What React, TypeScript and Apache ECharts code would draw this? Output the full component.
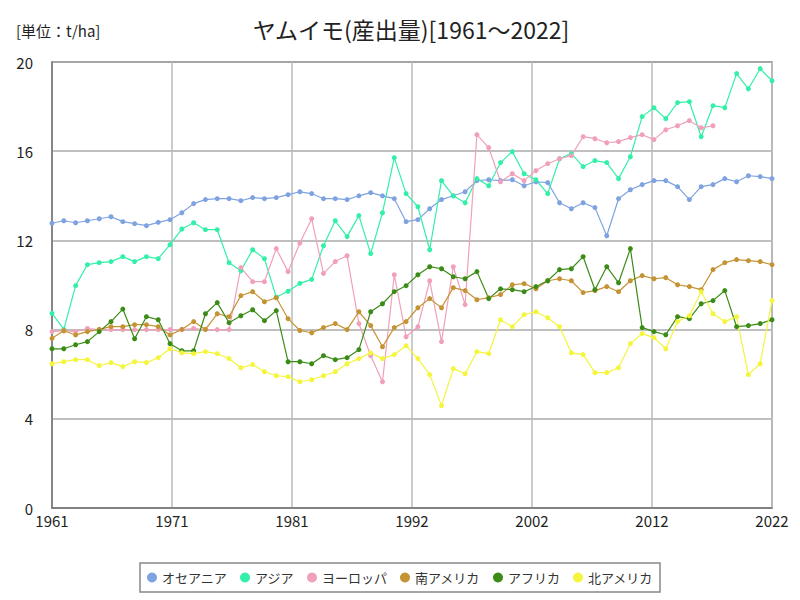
import React, { useEffect, useRef } from "react";
import * as echarts from "echarts";

const startYear = 1961;
const years: number[] = Array.from({ length: 62 }, (_, i) => startYear + i);

const seriesNames = ["オセアニア", "アジア", "ヨーロッパ", "南アメリカ", "アフリカ", "北アメリカ"];
const seriesColors = ["#7fa3e0", "#33f0a8", "#f0a0b8", "#c49334", "#3a8c16", "#f4f53c"];

const oceania = [
  12.77, 12.88, 12.79, 12.88, 12.97, 13.06, 12.84, 12.75, 12.66, 12.81,
  12.93, 13.24, 13.65, 13.83, 13.87, 13.87, 13.78, 13.92, 13.87, 13.92,
  14.05, 14.18, 14.1, 13.87, 13.87, 13.83, 14.0, 14.14, 14.0, 13.87,
  12.84, 12.93, 13.42, 13.83, 14.0, 14.18, 14.68, 14.72, 14.68, 14.72,
  14.45, 14.63, 14.59, 13.69, 13.42, 13.69, 13.47, 12.21, 13.87, 14.27,
  14.5, 14.68, 14.68, 14.41, 13.83, 14.41, 14.5, 14.77, 14.63, 14.9,
  14.86, 14.77,
];
const asia = [
  8.73, 8.01, 9.97, 10.91, 11.0, 11.05, 11.27, 11.05, 11.27, 11.18,
  11.81, 12.51, 12.79, 12.48, 12.48, 11.0, 10.64, 11.58, 11.18, 9.45,
  9.72, 10.07, 10.25, 11.76, 12.88, 12.17, 13.11, 11.41, 13.24, 15.71,
  14.1, 13.51, 11.58, 14.68, 14.0, 13.69, 14.77, 14.45, 15.49, 15.98,
  14.99, 14.72, 14.1, 15.66, 15.89, 15.31, 15.58, 15.49, 14.77, 15.75,
  17.55, 17.95, 17.46, 18.18, 18.22, 16.65, 18.04, 17.95, 19.48, 18.8,
  19.7, 19.16,
];
const europe: (number | null)[] = [
  7.91, 7.95, 7.91, 8.05, 8.0, 8.0, 8.0, 8.0, 8.0, 8.0,
  8.0, 8.0, 8.05, 8.0, 8.0, 8.0, 10.78, 10.15, 10.15, 11.63,
  10.6, 11.88, 12.97, 10.52, 11.05, 11.31, 8.27, 6.83, 5.66, 10.46,
  7.68, 8.13, 10.19, 7.46, 10.82, 9.12, 16.74, 16.16, 14.63, 14.99,
  14.68, 15.13, 15.44, 15.66, 15.8, 16.65, 16.56, 16.38, 16.43, 16.61,
  16.74, 16.52, 16.96, 17.14, 17.37, 17.05, 17.14, null, null, null,
  null, null,
];
const southAmerica = [
  7.61, 7.95, 7.76, 7.91, 8.01, 8.13, 8.13, 8.22, 8.22, 8.13,
  7.76, 8.01, 8.36, 8.01, 8.71, 8.58, 9.52, 9.7, 9.25, 9.43,
  8.49, 7.96, 7.86, 8.09, 8.27, 8.0, 8.8, 8.18, 7.23, 8.09,
  8.36, 8.98, 9.39, 8.98, 9.88, 9.75, 9.34, 9.43, 9.57, 10.01,
  10.06, 9.83, 10.19, 10.28, 10.19, 9.66, 9.75, 9.93, 9.7, 10.19,
  10.42, 10.28, 10.33, 10.01, 9.93, 9.79, 10.69, 11.0, 11.14, 11.09,
  11.05, 10.91,
];
const africa = [
  7.14, 7.14, 7.32, 7.46, 7.91, 8.36, 8.92, 7.59, 8.58, 8.44,
  7.37, 7.05, 7.05, 8.71, 9.21, 8.31, 8.62, 8.89, 8.4, 8.85,
  6.56, 6.56, 6.47, 6.83, 6.65, 6.74, 7.1, 8.8, 9.16, 9.7,
  9.97, 10.46, 10.82, 10.73, 10.37, 10.28, 10.6, 9.39, 9.83, 9.79,
  9.7, 9.93, 10.19, 10.69, 10.73, 11.27, 9.79, 10.82, 10.1, 11.63,
  8.09, 7.91, 7.77, 8.58, 8.49, 9.16, 9.3, 9.75, 8.13, 8.18,
  8.27, 8.44,
];
const northAmerica = [
  6.47, 6.56, 6.65, 6.65, 6.38, 6.52, 6.34, 6.56, 6.52, 6.74,
  7.14, 6.96, 6.92, 7.01, 6.92, 6.7, 6.29, 6.43, 6.11, 5.93,
  5.89, 5.66, 5.75, 5.93, 6.11, 6.47, 6.7, 6.96, 6.7, 6.88,
  7.28, 6.7, 5.98, 4.59, 6.25, 6.02, 7.01, 6.92, 8.44, 8.13,
  8.67, 8.8, 8.53, 8.13, 6.96, 6.88, 6.07, 6.07, 6.29, 7.37,
  7.82, 7.64, 7.14, 8.36, 8.62, 9.7, 8.71, 8.36, 8.58, 5.98,
  6.47, 9.3,
];

const allSeries = [oceania, asia, europe, southAmerica, africa, northAmerica];
const yTicks = { min: 0, max: 20, interval: 4 };
const titleText = "ヤムイモ(産出量)[1961～2022]";
const unitText = "[単位：t/ha]";
const FONT = "'Noto Sans CJK JP', sans-serif";

export default function App() {
  const ref = useRef<HTMLDivElement>(null);
  useEffect(() => {
    if (!ref.current) return;
    const chart = echarts.init(ref.current, null, { renderer: "svg" });
    const lastIdx = years.length - 1;
    chart.setOption({
      animation: false,
      backgroundColor: "#ffffff",
      textStyle: { fontFamily: FONT },
      graphic: [
        {
          type: "text",
          x: 411,
          y: 29,
          style: {
            text: titleText,
            fontFamily: FONT,
            fontSize: 23,
            fill: "#222",
            textAlign: "center",
            textVerticalAlign: "middle",
          },
        },
        {
          type: "text",
          x: 16,
          y: 30,
          style: {
            text: unitText,
            fontFamily: FONT,
            fontSize: 15,
            fill: "#222",
            textAlign: "left",
            textVerticalAlign: "middle",
          },
        },
      ],
      legend: {
        bottom: 8,
        left: "center",
        icon: "circle",
        itemWidth: 10,
        itemHeight: 10,
        itemGap: 13,
        borderColor: "#888",
        borderWidth: 1.5,
        padding: [8, 7],
        textStyle: { fontFamily: FONT, fontSize: 13, color: "#333" },
        data: seriesNames,
      },
      grid: {
        left: 52,
        right: 28,
        top: 62,
        bottom: 92,
        show: true,
        borderColor: "#777",
        borderWidth: 1.5,
      },
      xAxis: {
        type: "value",
        min: 0,
        max: lastIdx,
        interval: lastIdx / 6,
        axisLine: { show: true, lineStyle: { color: "#777", width: 1.5 } },
        axisTick: { show: false },
        splitLine: { show: true, lineStyle: { color: "#bbb", width: 1.5 } },
        axisLabel: {
          fontFamily: FONT,
          fontSize: 15,
          color: "#222",
          margin: 5,
          formatter: (v: number) => String(Math.round(v + startYear)),
        },
      },
      yAxis: {
        type: "value",
        min: yTicks.min,
        max: yTicks.max,
        interval: yTicks.interval,
        axisLine: { show: true, lineStyle: { color: "#777", width: 1.5 } },
        axisTick: { show: false },
        splitLine: { show: true, lineStyle: { color: "#aaa", width: 1.5 } },
        axisLabel: { fontFamily: FONT, fontSize: 15, color: "#222", margin: 19 },
      },
      series: allSeries.map((vals, si) => ({
        name: seriesNames[si],
        type: "line",
        color: seriesColors[si],
        symbol: "circle",
        symbolSize: 5,
        lineStyle: { width: 1.2, color: seriesColors[si] },
        itemStyle: { color: seriesColors[si] },
        data: vals.map((v, i) => [i, v]),
      })),
    });
    return () => chart.dispose();
  }, []);
  return (
    <div
      ref={ref}
      style={{ position: "absolute", left: 0, top: 0, width: 800, height: 600 }}
    />
  );
}
